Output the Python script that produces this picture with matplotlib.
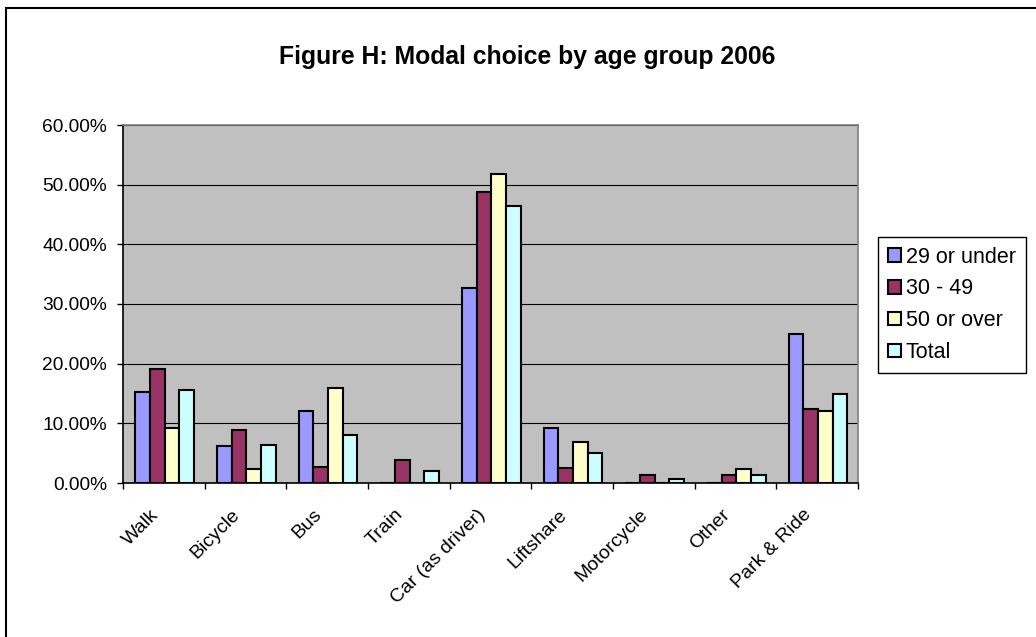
import matplotlib
matplotlib.use("Agg")
import matplotlib.pyplot as plt
import numpy as np
from matplotlib.patches import Rectangle
from matplotlib.ticker import FuncFormatter, MultipleLocator

plt.rcParams["font.family"] = ["Liberation Sans", "DejaVu Sans"]

# Travel modes and share of each age group (percent)
modes = ["Walk", "Bicycle", "Bus", "Train", "Car (as driver)", "Liftshare",
         "Motorcycle", "Other", "Park & Ride"]
groups = ["29 or under", "30 - 49", "50 or over", "Total"]
under_29 = [15.2, 6.2, 12.1, 0.0, 32.7, 9.2, 0.0, 0.0, 25.0]
age_30_49 = [19.1, 8.9, 2.6, 3.9, 48.8, 2.5, 1.4, 1.4, 12.4]
over_50 = [9.2, 2.4, 15.9, 0.0, 51.8, 6.9, 0.0, 2.3, 12.1]
total = [15.6, 6.3, 8.1, 2.0, 46.4, 5.0, 0.7, 1.4, 15.0]
series = [under_29, age_30_49, over_50, total]
colors = ["#9999FF", "#993366", "#FFFFCC", "#CCFFFF"]

W, H = 1036, 637
fig = plt.figure(figsize=(W / 100, H / 100), dpi=100)
fig.patch.set_facecolor("white")

# chart-area frame
fig.add_artist(Rectangle((6 / W, -0.1), 2.0, 1.1 - 8 / H, transform=fig.transFigure,
                         fill=False, edgecolor="black", linewidth=1.5))

left, right, top, bottom = 123, 858, 125, 483
ax = fig.add_axes([left / W, 1 - bottom / H, (right - left) / W, (bottom - top) / H])
ax.set_facecolor("#C0C0C0")

x = np.arange(len(modes))
bw = 0.18
for i, (vals, col, name) in enumerate(zip(series, colors, groups)):
    ax.bar(x + (i - 1.5) * bw + 0.01, vals, width=bw, color=col, edgecolor="black",
           linewidth=1.5, label=name, zorder=3)

ax.set_xlim(-0.5, len(modes) - 0.5)
ax.set_ylim(0, 60)
ax.yaxis.set_major_locator(MultipleLocator(10))
ax.yaxis.set_major_formatter(FuncFormatter(lambda v, p: f"{v:.2f}%"))
ax.grid(axis="y", color="black", linewidth=0.8, zorder=1)
ax.set_axisbelow(True)

# category boundaries carry the tick marks, labels sit near each category centre
ax.set_xticks(np.arange(len(modes) + 1) - 0.5)
ax.set_xticklabels([])
ax.set_xticks(x - 0.1, minor=True)
ax.set_xticklabels(modes, minor=True, rotation=45, ha="right", va="center",
                   rotation_mode="anchor", fontsize=14)
ax.tick_params(axis="x", which="major", direction="out", length=4.5, width=1, color="black")
ax.tick_params(axis="x", which="minor", length=0, pad=21)
ax.tick_params(axis="y", direction="out", length=4.5, width=1, pad=7, labelsize=13.8)

for side in ("top", "right"):
    ax.spines[side].set_color("#808080")
    ax.spines[side].set_linewidth(1.2)
for side in ("left", "bottom"):
    ax.spines[side].set_color("black")
    ax.spines[side].set_linewidth(1.2)

fig.text(527 / W, 1 - 64 / H, "Figure H: Modal choice by age group 2006",
         ha="center", va="baseline", fontsize=17.8, fontweight="bold")

leg = ax.legend(loc="upper left", bbox_to_anchor=(878 / W, 1 - 237 / H),
                bbox_transform=fig.transFigure, borderaxespad=0, fontsize=15.5,
                frameon=True, fancybox=False, edgecolor="black", framealpha=1,
                handlelength=0.6, handleheight=0.6, handletextpad=0.25,
                labelspacing=0.5, borderpad=0.45)
leg.get_frame().set_linewidth(1.0)

fig.savefig("out.png", dpi=100)
